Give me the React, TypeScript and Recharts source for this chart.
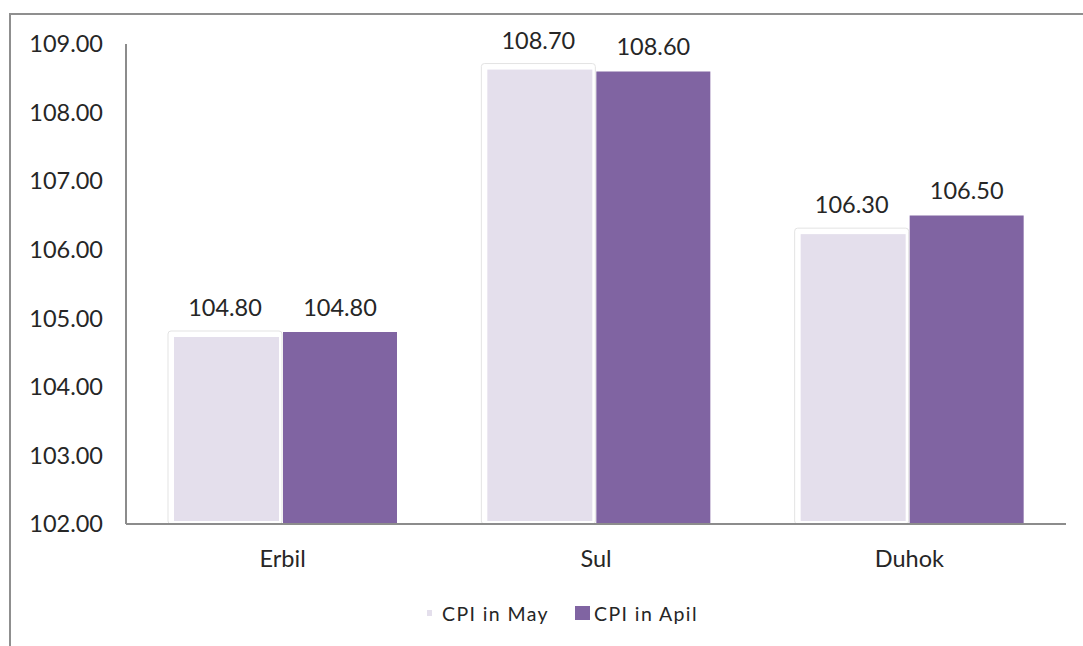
import React from 'react';
import { BarChart, Bar, XAxis, YAxis, LabelList } from 'recharts';

const regions = ['Erbil', 'Sul', 'Duhok'];
const cpiMay = [104.8, 108.7, 106.3];
const cpiApril = [104.8, 108.6, 106.5];
const yTicks = [102, 103, 104, 105, 106, 107, 108, 109];
const seriesNames = ['CPI in May', 'CPI in Apil'];
const seriesColors = ['#E4DFEC', '#8064A2'];

const data = regions.map((r, i) => ({ region: r, may: cpiMay[i], april: cpiApril[i] }));

const FONT = 'Lato, "Open Sans", sans-serif';
const TEXT = '#262626';

const MayShape = (props: any) => {
  const { x, y, width, height } = props;
  if (width == null || height == null) return null;
  return (
    <g>
      <rect x={x} y={y - 1} width={width} height={height + 1} rx={3} fill="#ffffff" stroke="#e3e3e3" strokeWidth={1} />
      <rect x={x + 6} y={y + 5} width={width - 9} height={height - 8} fill={seriesColors[0]} />
    </g>
  );
};

const fmt = (v: any) => Number(v).toFixed(2);

export default function App() {
  return (
    <div style={{ position: 'absolute', left: 0, top: 0, width: 1083, height: 646, overflow: 'hidden', background: '#fff', fontFamily: FONT }}>
      <div style={{ position: 'absolute', left: 9, top: 13, width: 1200, height: 800, border: '2px solid #8f8f8f', boxSizing: 'border-box' }} />
      <div style={{ position: 'absolute', left: 0, top: 0 }}>
        <BarChart
          width={1083}
          height={646}
          data={data}
          margin={{ top: 44, right: 17, bottom: 92, left: 0 }}
          barSize={114}
          barGap={1}
        >
          <YAxis
            width={126}
            domain={[102, 109]}
            ticks={yTicks}
            tickFormatter={fmt}
            tickLine={false}
            tickSize={6}
            tickMargin={17}
            axisLine={{ stroke: '#8c8c8c', strokeWidth: 2 }}
            tick={{ fill: TEXT, fontSize: 23.5, fontFamily: FONT }}
            interval={0}
          />
          <XAxis
            dataKey="region"
            height={30}
            tickLine={false}
            tickSize={6}
            tickMargin={20}
            axisLine={{ stroke: '#8c8c8c', strokeWidth: 2 }}
            tick={{ fill: TEXT, fontSize: 23.5, fontFamily: FONT }}
          />
          <Bar dataKey="may" name={seriesNames[0]} fill={seriesColors[0]} shape={<MayShape />} isAnimationActive={false}>
            <LabelList dataKey="may" position="top" offset={16} formatter={fmt} fill={TEXT} fontSize={23.5} fontFamily={FONT} />
          </Bar>
          <Bar dataKey="april" name={seriesNames[1]} fill={seriesColors[1]} isAnimationActive={false}>
            <LabelList dataKey="april" position="top" offset={16} formatter={fmt} fill={TEXT} fontSize={23.5} fontFamily={FONT} />
          </Bar>
        </BarChart>
      </div>
      <div style={{ position: 'absolute', left: 427, top: 598, height: 30, display: 'flex', alignItems: 'center', fontSize: 19.5, color: TEXT, fontFamily: FONT, letterSpacing: 1.4 }}>
        <span style={{ display: 'inline-block', width: 5, height: 6, background: seriesColors[0], marginRight: 10 }} />
        <span style={{ marginRight: 26 }}>{seriesNames[0]}</span>
        <span style={{ display: 'inline-block', width: 15, height: 14, background: seriesColors[1], marginRight: 4 }} />
        <span>{seriesNames[1]}</span>
      </div>
    </div>
  );
}
